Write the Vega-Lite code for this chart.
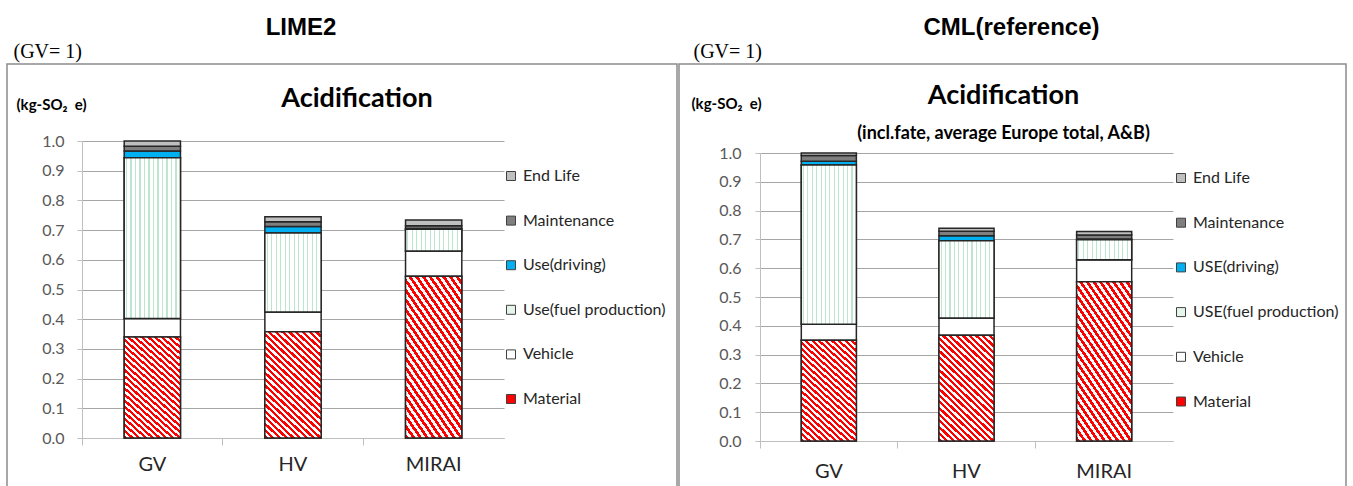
{
  "$schema": "https://vega.github.io/schema/vega-lite/v6.json",
  "background": "white",
  "padding": {"left": 6, "top": 16, "right": 0, "bottom": 0},
  "spacing": 0,
  "hconcat": [
    {
      "title": {"text": "LIME2", "font": "Liberation Sans", "fontSize": 24, "fontWeight": "bold", "color": "#000000", "anchor": "middle", "dx": -41, "offset": 0},
      "vconcat": [
        {
          "width": 670,
          "height": 440,
          "title": {"text": "Acidification", "font": "Lato", "fontSize": 27, "fontWeight": "bold", "color": "#000000", "anchor": "middle", "dx": 15, "offset": -72},
          "data": {"values": [
            {"vehicle": "GV", "stage": "Material", "value": 0.340},
            {"vehicle": "GV", "stage": "Vehicle", "value": 0.062},
            {"vehicle": "GV", "stage": "Use(fuel production)", "value": 0.542},
            {"vehicle": "GV", "stage": "Use(driving)", "value": 0.022},
            {"vehicle": "GV", "stage": "Maintenance", "value": 0.016},
            {"vehicle": "GV", "stage": "End Life", "value": 0.018},
            {"vehicle": "HV", "stage": "Material", "value": 0.358},
            {"vehicle": "HV", "stage": "Vehicle", "value": 0.066},
            {"vehicle": "HV", "stage": "Use(fuel production)", "value": 0.266},
            {"vehicle": "HV", "stage": "Use(driving)", "value": 0.022},
            {"vehicle": "HV", "stage": "Maintenance", "value": 0.016},
            {"vehicle": "HV", "stage": "End Life", "value": 0.017},
            {"vehicle": "MIRAI", "stage": "Material", "value": 0.545},
            {"vehicle": "MIRAI", "stage": "Vehicle", "value": 0.085},
            {"vehicle": "MIRAI", "stage": "Use(fuel production)", "value": 0.073},
            {"vehicle": "MIRAI", "stage": "Use(driving)", "value": 0.002},
            {"vehicle": "MIRAI", "stage": "Maintenance", "value": 0.010},
            {"vehicle": "MIRAI", "stage": "End Life", "value": 0.019}
          ]},
          "transform": [
            {"calculate": "indexof(['Material','Vehicle','Use(fuel production)','Use(driving)','Maintenance','End Life'], datum.stage)", "as": "ord"},
            {"stack": "value", "groupby": ["vehicle"], "sort": [{"field": "ord", "order": "ascending"}], "as": ["v0", "v1"]}
          ],
          "encoding": {
            "x": {"field": "vehicle", "type": "nominal", "sort": ["GV", "HV", "MIRAI"],
              "scale": {"range": [75, 497], "paddingInner": 0.6, "paddingOuter": 0.3},
              "axis": {"orient": "bottom", "offset": -66, "bandPosition": -0.75, "domainColor": "#bfbfbf", "tickColor": "#bfbfbf", "tickSize": 7, "labelAngle": 0, "labelFont": "Lato", "labelFontSize": 20, "labelColor": "#262626", "labelPadding": 19, "labelBaseline": "middle", "grid": false,
                "title": "(GV= 1)", "titleX": 6, "titleY": -387, "titleAlign": "left", "titleBaseline": "middle", "titleFont": "Liberation Serif", "titleFontSize": 20, "titleFontWeight": "normal", "titleColor": "#000000"}},
            "y": {"field": "v0", "type": "quantitative",
              "scale": {"domain": [0, 1], "range": [374, 77], "nice": false},
              "axis": {"values": [0, 0.1, 0.2, 0.3, 0.4, 0.5, 0.6, 0.7, 0.8, 0.9, 1.0], "format": ".1f", "offset": -75, "grid": true, "gridColor": "#a6a6a6", "gridWidth": 1, "domainColor": "#bfbfbf", "tickColor": "#bfbfbf", "tickSize": 5, "labelFont": "Lato", "labelFontSize": 16, "labelColor": "#595959", "labelPadding": 13,
                "title": "(kg-SO₂\u00a0 e)", "titleAngle": 0, "titleX": -66, "titleY": 40, "titleAlign": "left", "titleBaseline": "middle", "titleFont": "Lato", "titleFontSize": 15, "titleFontWeight": "bold", "titleColor": "#000000"}},
            "y2": {"field": "v1"}
          },
          "layer": [
            {
              "mark": {"type": "bar", "stroke": "#262626", "strokeWidth": 1.5},
              "encoding": {
                "color": {"field": "stage", "type": "nominal",
                  "scale": {"domain": ["End Life", "Maintenance", "Use(driving)", "Use(fuel production)", "Vehicle", "Material"],
                            "range": ["#bfbfbf", "#7f7f7f", "#00b0f0", "#e6f5ec", "#ffffff", "#ff0000"]},
                  "legend": {"orient": "none", "legendX": 496, "legendY": 104, "title": null, "symbolType": "square", "symbolSize": 81, "symbolStrokeColor": "#404040", "symbolStrokeWidth": 1, "labelFont": "Lato", "labelFontSize": 16, "labelColor": "#262626", "rowPadding": 28.6, "labelOffset": 4}}
              }
            },
            {
              "transform": [{"filter": "datum.stage === 'Material'"}],
              "mark": {"type": "bar", "stroke": "#262626", "strokeWidth": 1.5,
                "fill": {"gradient": "linear", "x1": 0, "y1": 1, "x2": 0.6, "y2": -0.2, "stops": [
                  {"offset": 0, "color": "#ff0000"}, {"offset": 0.02, "color": "#ff0000"}, {"offset": 0.02, "color": "#ffffff"}, {"offset": 0.04, "color": "#ffffff"},
                  {"offset": 0.04, "color": "#ff0000"}, {"offset": 0.06, "color": "#ff0000"}, {"offset": 0.06, "color": "#ffffff"}, {"offset": 0.08, "color": "#ffffff"},
                  {"offset": 0.08, "color": "#ff0000"}, {"offset": 0.10, "color": "#ff0000"}, {"offset": 0.10, "color": "#ffffff"}, {"offset": 0.12, "color": "#ffffff"},
                  {"offset": 0.12, "color": "#ff0000"}, {"offset": 0.14, "color": "#ff0000"}, {"offset": 0.14, "color": "#ffffff"}, {"offset": 0.16, "color": "#ffffff"},
                  {"offset": 0.16, "color": "#ff0000"}, {"offset": 0.18, "color": "#ff0000"}, {"offset": 0.18, "color": "#ffffff"}, {"offset": 0.20, "color": "#ffffff"},
                  {"offset": 0.20, "color": "#ff0000"}, {"offset": 0.22, "color": "#ff0000"}, {"offset": 0.22, "color": "#ffffff"}, {"offset": 0.24, "color": "#ffffff"},
                  {"offset": 0.24, "color": "#ff0000"}, {"offset": 0.26, "color": "#ff0000"}, {"offset": 0.26, "color": "#ffffff"}, {"offset": 0.28, "color": "#ffffff"},
                  {"offset": 0.28, "color": "#ff0000"}, {"offset": 0.30, "color": "#ff0000"}, {"offset": 0.30, "color": "#ffffff"}, {"offset": 0.32, "color": "#ffffff"},
                  {"offset": 0.32, "color": "#ff0000"}, {"offset": 0.34, "color": "#ff0000"}, {"offset": 0.34, "color": "#ffffff"}, {"offset": 0.36, "color": "#ffffff"},
                  {"offset": 0.36, "color": "#ff0000"}, {"offset": 0.38, "color": "#ff0000"}, {"offset": 0.38, "color": "#ffffff"}, {"offset": 0.40, "color": "#ffffff"},
                  {"offset": 0.40, "color": "#ff0000"}, {"offset": 0.42, "color": "#ff0000"}, {"offset": 0.42, "color": "#ffffff"}, {"offset": 0.44, "color": "#ffffff"},
                  {"offset": 0.44, "color": "#ff0000"}, {"offset": 0.46, "color": "#ff0000"}, {"offset": 0.46, "color": "#ffffff"}, {"offset": 0.48, "color": "#ffffff"},
                  {"offset": 0.48, "color": "#ff0000"}, {"offset": 0.50, "color": "#ff0000"}, {"offset": 0.50, "color": "#ffffff"}, {"offset": 0.52, "color": "#ffffff"},
                  {"offset": 0.52, "color": "#ff0000"}, {"offset": 0.54, "color": "#ff0000"}, {"offset": 0.54, "color": "#ffffff"}, {"offset": 0.56, "color": "#ffffff"},
                  {"offset": 0.56, "color": "#ff0000"}, {"offset": 0.58, "color": "#ff0000"}, {"offset": 0.58, "color": "#ffffff"}, {"offset": 0.60, "color": "#ffffff"},
                  {"offset": 0.60, "color": "#ff0000"}, {"offset": 0.62, "color": "#ff0000"}, {"offset": 0.62, "color": "#ffffff"}, {"offset": 0.64, "color": "#ffffff"},
                  {"offset": 0.64, "color": "#ff0000"}, {"offset": 0.66, "color": "#ff0000"}, {"offset": 0.66, "color": "#ffffff"}, {"offset": 0.68, "color": "#ffffff"},
                  {"offset": 0.68, "color": "#ff0000"}, {"offset": 0.70, "color": "#ff0000"}, {"offset": 0.70, "color": "#ffffff"}, {"offset": 0.72, "color": "#ffffff"},
                  {"offset": 0.72, "color": "#ff0000"}, {"offset": 0.74, "color": "#ff0000"}, {"offset": 0.74, "color": "#ffffff"}, {"offset": 0.76, "color": "#ffffff"},
                  {"offset": 0.76, "color": "#ff0000"}, {"offset": 0.78, "color": "#ff0000"}, {"offset": 0.78, "color": "#ffffff"}, {"offset": 0.80, "color": "#ffffff"},
                  {"offset": 0.80, "color": "#ff0000"}, {"offset": 0.82, "color": "#ff0000"}, {"offset": 0.82, "color": "#ffffff"}, {"offset": 0.84, "color": "#ffffff"},
                  {"offset": 0.84, "color": "#ff0000"}, {"offset": 0.86, "color": "#ff0000"}, {"offset": 0.86, "color": "#ffffff"}, {"offset": 0.88, "color": "#ffffff"},
                  {"offset": 0.88, "color": "#ff0000"}, {"offset": 0.90, "color": "#ff0000"}, {"offset": 0.90, "color": "#ffffff"}, {"offset": 0.92, "color": "#ffffff"},
                  {"offset": 0.92, "color": "#ff0000"}, {"offset": 0.94, "color": "#ff0000"}, {"offset": 0.94, "color": "#ffffff"}, {"offset": 0.96, "color": "#ffffff"},
                  {"offset": 0.96, "color": "#ff0000"}, {"offset": 0.98, "color": "#ff0000"}, {"offset": 0.98, "color": "#ffffff"}, {"offset": 1.0, "color": "#ffffff"}
                ]}}
            },
            {
              "transform": [{"filter": "datum.stage === 'Use(fuel production)'"}],
              "mark": {"type": "bar", "stroke": "#262626", "strokeWidth": 1.5,
                "fill": {"gradient": "linear", "x1": 0, "y1": 0, "x2": 1, "y2": 0, "stops": [
                  {"offset": 0, "color": "#ffffff"},
                  {"offset": 0.03, "color": "#ffffff"}, {"offset": 0.03, "color": "#bde6cf"}, {"offset": 0.05, "color": "#bde6cf"}, {"offset": 0.05, "color": "#ffffff"},
                  {"offset": 0.11, "color": "#ffffff"}, {"offset": 0.11, "color": "#bde6cf"}, {"offset": 0.13, "color": "#bde6cf"}, {"offset": 0.13, "color": "#ffffff"},
                  {"offset": 0.19, "color": "#ffffff"}, {"offset": 0.19, "color": "#bde6cf"}, {"offset": 0.21, "color": "#bde6cf"}, {"offset": 0.21, "color": "#ffffff"},
                  {"offset": 0.27, "color": "#ffffff"}, {"offset": 0.27, "color": "#bde6cf"}, {"offset": 0.29, "color": "#bde6cf"}, {"offset": 0.29, "color": "#ffffff"},
                  {"offset": 0.35, "color": "#ffffff"}, {"offset": 0.35, "color": "#bde6cf"}, {"offset": 0.37, "color": "#bde6cf"}, {"offset": 0.37, "color": "#ffffff"},
                  {"offset": 0.43, "color": "#ffffff"}, {"offset": 0.43, "color": "#bde6cf"}, {"offset": 0.45, "color": "#bde6cf"}, {"offset": 0.45, "color": "#ffffff"},
                  {"offset": 0.51, "color": "#ffffff"}, {"offset": 0.51, "color": "#bde6cf"}, {"offset": 0.53, "color": "#bde6cf"}, {"offset": 0.53, "color": "#ffffff"},
                  {"offset": 0.59, "color": "#ffffff"}, {"offset": 0.59, "color": "#bde6cf"}, {"offset": 0.61, "color": "#bde6cf"}, {"offset": 0.61, "color": "#ffffff"},
                  {"offset": 0.67, "color": "#ffffff"}, {"offset": 0.67, "color": "#bde6cf"}, {"offset": 0.69, "color": "#bde6cf"}, {"offset": 0.69, "color": "#ffffff"},
                  {"offset": 0.75, "color": "#ffffff"}, {"offset": 0.75, "color": "#bde6cf"}, {"offset": 0.77, "color": "#bde6cf"}, {"offset": 0.77, "color": "#ffffff"},
                  {"offset": 0.83, "color": "#ffffff"}, {"offset": 0.83, "color": "#bde6cf"}, {"offset": 0.85, "color": "#bde6cf"}, {"offset": 0.85, "color": "#ffffff"},
                  {"offset": 0.91, "color": "#ffffff"}, {"offset": 0.91, "color": "#bde6cf"}, {"offset": 0.93, "color": "#bde6cf"}, {"offset": 0.93, "color": "#ffffff"},
                  {"offset": 1.0, "color": "#ffffff"}
                ]}}
            }
          ]
        }
      ]
    },
    {
      "title": {"text": "CML(reference)", "font": "Liberation Sans", "fontSize": 24, "fontWeight": "bold", "color": "#000000", "anchor": "middle", "dx": -1, "offset": 0},
      "vconcat": [
        {
          "width": 667,
          "height": 440,
          "title": {"text": "Acidification", "subtitle": "(incl.fate, average Europe total, A&B)", "font": "Lato", "fontSize": 27, "fontWeight": "bold", "color": "#000000", "subtitleFont": "Lato", "subtitleFontSize": 18, "subtitleFontWeight": "bold", "subtitleColor": "#000000", "subtitlePadding": 15, "anchor": "middle", "dx": -9, "offset": -103},
          "data": {"values": [
            {"vehicle": "GV", "stage": "Material", "value": 0.350},
            {"vehicle": "GV", "stage": "Vehicle", "value": 0.055},
            {"vehicle": "GV", "stage": "USE(fuel production)", "value": 0.553},
            {"vehicle": "GV", "stage": "USE(driving)", "value": 0.013},
            {"vehicle": "GV", "stage": "Maintenance", "value": 0.020},
            {"vehicle": "GV", "stage": "End Life", "value": 0.009},
            {"vehicle": "HV", "stage": "Material", "value": 0.367},
            {"vehicle": "HV", "stage": "Vehicle", "value": 0.060},
            {"vehicle": "HV", "stage": "USE(fuel production)", "value": 0.268},
            {"vehicle": "HV", "stage": "USE(driving)", "value": 0.018},
            {"vehicle": "HV", "stage": "Maintenance", "value": 0.015},
            {"vehicle": "HV", "stage": "End Life", "value": 0.011},
            {"vehicle": "MIRAI", "stage": "Material", "value": 0.553},
            {"vehicle": "MIRAI", "stage": "Vehicle", "value": 0.076},
            {"vehicle": "MIRAI", "stage": "USE(fuel production)", "value": 0.070},
            {"vehicle": "MIRAI", "stage": "USE(driving)", "value": 0.002},
            {"vehicle": "MIRAI", "stage": "Maintenance", "value": 0.014},
            {"vehicle": "MIRAI", "stage": "End Life", "value": 0.012}
          ]},
          "transform": [
            {"calculate": "indexof(['Material','Vehicle','USE(fuel production)','USE(driving)','Maintenance','End Life'], datum.stage)", "as": "ord"},
            {"stack": "value", "groupby": ["vehicle"], "sort": [{"field": "ord", "order": "ascending"}], "as": ["v0", "v1"]}
          ],
          "encoding": {
            "x": {"field": "vehicle", "type": "nominal", "sort": ["GV", "HV", "MIRAI"],
              "scale": {"range": [81, 494], "paddingInner": 0.6, "paddingOuter": 0.3},
              "axis": {"orient": "bottom", "offset": -63, "bandPosition": -0.75, "domainColor": "#bfbfbf", "tickColor": "#bfbfbf", "tickSize": 7, "labelAngle": 0, "labelFont": "Lato", "labelFontSize": 20, "labelColor": "#262626", "labelPadding": 23, "labelBaseline": "middle", "grid": false,
                "title": "(GV= 1)", "titleX": 14, "titleY": -390, "titleAlign": "left", "titleBaseline": "middle", "titleFont": "Liberation Serif", "titleFontSize": 20, "titleFontWeight": "normal", "titleColor": "#000000"}},
            "y": {"field": "v0", "type": "quantitative",
              "scale": {"domain": [0, 1], "range": [377, 89], "nice": false},
              "axis": {"values": [0, 0.1, 0.2, 0.3, 0.4, 0.5, 0.6, 0.7, 0.8, 0.9, 1.0], "format": ".1f", "offset": -81, "grid": true, "gridColor": "#a6a6a6", "gridWidth": 1, "domainColor": "#bfbfbf", "tickColor": "#bfbfbf", "tickSize": 5, "labelFont": "Lato", "labelFontSize": 16, "labelColor": "#595959", "labelPadding": 14,
                "title": "(kg-SO₂\u00a0 e)", "titleAngle": 0, "titleX": -69, "titleY": 39, "titleAlign": "left", "titleBaseline": "middle", "titleFont": "Lato", "titleFontSize": 15, "titleFontWeight": "bold", "titleColor": "#000000"}},
            "y2": {"field": "v1"}
          },
          "layer": [
            {
              "mark": {"type": "bar", "stroke": "#262626", "strokeWidth": 1.5},
              "encoding": {
                "color": {"field": "stage", "type": "nominal",
                  "scale": {"domain": ["End Life", "Maintenance", "USE(driving)", "USE(fuel production)", "Vehicle", "Material"],
                            "range": ["#bfbfbf", "#7f7f7f", "#00b0f0", "#e6f5ec", "#ffffff", "#ff0000"]},
                  "legend": {"orient": "none", "legendX": 494, "legendY": 106, "title": null, "symbolType": "square", "symbolSize": 81, "symbolStrokeColor": "#404040", "symbolStrokeWidth": 1, "labelFont": "Lato", "labelFontSize": 16, "labelColor": "#262626", "rowPadding": 28.7, "labelOffset": 4}}
              }
            },
            {
              "transform": [{"filter": "datum.stage === 'Material'"}],
              "mark": {"type": "bar", "stroke": "#262626", "strokeWidth": 1.5,
                "fill": {"gradient": "linear", "x1": 0, "y1": 1, "x2": 0.6, "y2": -0.2, "stops": [
                  {"offset": 0, "color": "#ff0000"}, {"offset": 0.02, "color": "#ff0000"}, {"offset": 0.02, "color": "#ffffff"}, {"offset": 0.04, "color": "#ffffff"},
                  {"offset": 0.04, "color": "#ff0000"}, {"offset": 0.06, "color": "#ff0000"}, {"offset": 0.06, "color": "#ffffff"}, {"offset": 0.08, "color": "#ffffff"},
                  {"offset": 0.08, "color": "#ff0000"}, {"offset": 0.10, "color": "#ff0000"}, {"offset": 0.10, "color": "#ffffff"}, {"offset": 0.12, "color": "#ffffff"},
                  {"offset": 0.12, "color": "#ff0000"}, {"offset": 0.14, "color": "#ff0000"}, {"offset": 0.14, "color": "#ffffff"}, {"offset": 0.16, "color": "#ffffff"},
                  {"offset": 0.16, "color": "#ff0000"}, {"offset": 0.18, "color": "#ff0000"}, {"offset": 0.18, "color": "#ffffff"}, {"offset": 0.20, "color": "#ffffff"},
                  {"offset": 0.20, "color": "#ff0000"}, {"offset": 0.22, "color": "#ff0000"}, {"offset": 0.22, "color": "#ffffff"}, {"offset": 0.24, "color": "#ffffff"},
                  {"offset": 0.24, "color": "#ff0000"}, {"offset": 0.26, "color": "#ff0000"}, {"offset": 0.26, "color": "#ffffff"}, {"offset": 0.28, "color": "#ffffff"},
                  {"offset": 0.28, "color": "#ff0000"}, {"offset": 0.30, "color": "#ff0000"}, {"offset": 0.30, "color": "#ffffff"}, {"offset": 0.32, "color": "#ffffff"},
                  {"offset": 0.32, "color": "#ff0000"}, {"offset": 0.34, "color": "#ff0000"}, {"offset": 0.34, "color": "#ffffff"}, {"offset": 0.36, "color": "#ffffff"},
                  {"offset": 0.36, "color": "#ff0000"}, {"offset": 0.38, "color": "#ff0000"}, {"offset": 0.38, "color": "#ffffff"}, {"offset": 0.40, "color": "#ffffff"},
                  {"offset": 0.40, "color": "#ff0000"}, {"offset": 0.42, "color": "#ff0000"}, {"offset": 0.42, "color": "#ffffff"}, {"offset": 0.44, "color": "#ffffff"},
                  {"offset": 0.44, "color": "#ff0000"}, {"offset": 0.46, "color": "#ff0000"}, {"offset": 0.46, "color": "#ffffff"}, {"offset": 0.48, "color": "#ffffff"},
                  {"offset": 0.48, "color": "#ff0000"}, {"offset": 0.50, "color": "#ff0000"}, {"offset": 0.50, "color": "#ffffff"}, {"offset": 0.52, "color": "#ffffff"},
                  {"offset": 0.52, "color": "#ff0000"}, {"offset": 0.54, "color": "#ff0000"}, {"offset": 0.54, "color": "#ffffff"}, {"offset": 0.56, "color": "#ffffff"},
                  {"offset": 0.56, "color": "#ff0000"}, {"offset": 0.58, "color": "#ff0000"}, {"offset": 0.58, "color": "#ffffff"}, {"offset": 0.60, "color": "#ffffff"},
                  {"offset": 0.60, "color": "#ff0000"}, {"offset": 0.62, "color": "#ff0000"}, {"offset": 0.62, "color": "#ffffff"}, {"offset": 0.64, "color": "#ffffff"},
                  {"offset": 0.64, "color": "#ff0000"}, {"offset": 0.66, "color": "#ff0000"}, {"offset": 0.66, "color": "#ffffff"}, {"offset": 0.68, "color": "#ffffff"},
                  {"offset": 0.68, "color": "#ff0000"}, {"offset": 0.70, "color": "#ff0000"}, {"offset": 0.70, "color": "#ffffff"}, {"offset": 0.72, "color": "#ffffff"},
                  {"offset": 0.72, "color": "#ff0000"}, {"offset": 0.74, "color": "#ff0000"}, {"offset": 0.74, "color": "#ffffff"}, {"offset": 0.76, "color": "#ffffff"},
                  {"offset": 0.76, "color": "#ff0000"}, {"offset": 0.78, "color": "#ff0000"}, {"offset": 0.78, "color": "#ffffff"}, {"offset": 0.80, "color": "#ffffff"},
                  {"offset": 0.80, "color": "#ff0000"}, {"offset": 0.82, "color": "#ff0000"}, {"offset": 0.82, "color": "#ffffff"}, {"offset": 0.84, "color": "#ffffff"},
                  {"offset": 0.84, "color": "#ff0000"}, {"offset": 0.86, "color": "#ff0000"}, {"offset": 0.86, "color": "#ffffff"}, {"offset": 0.88, "color": "#ffffff"},
                  {"offset": 0.88, "color": "#ff0000"}, {"offset": 0.90, "color": "#ff0000"}, {"offset": 0.90, "color": "#ffffff"}, {"offset": 0.92, "color": "#ffffff"},
                  {"offset": 0.92, "color": "#ff0000"}, {"offset": 0.94, "color": "#ff0000"}, {"offset": 0.94, "color": "#ffffff"}, {"offset": 0.96, "color": "#ffffff"},
                  {"offset": 0.96, "color": "#ff0000"}, {"offset": 0.98, "color": "#ff0000"}, {"offset": 0.98, "color": "#ffffff"}, {"offset": 1.0, "color": "#ffffff"}
                ]}}
            },
            {
              "transform": [{"filter": "datum.stage === 'USE(fuel production)'"}],
              "mark": {"type": "bar", "stroke": "#262626", "strokeWidth": 1.5,
                "fill": {"gradient": "linear", "x1": 0, "y1": 0, "x2": 1, "y2": 0, "stops": [
                  {"offset": 0, "color": "#ffffff"},
                  {"offset": 0.03, "color": "#ffffff"}, {"offset": 0.03, "color": "#bde6cf"}, {"offset": 0.05, "color": "#bde6cf"}, {"offset": 0.05, "color": "#ffffff"},
                  {"offset": 0.11, "color": "#ffffff"}, {"offset": 0.11, "color": "#bde6cf"}, {"offset": 0.13, "color": "#bde6cf"}, {"offset": 0.13, "color": "#ffffff"},
                  {"offset": 0.19, "color": "#ffffff"}, {"offset": 0.19, "color": "#bde6cf"}, {"offset": 0.21, "color": "#bde6cf"}, {"offset": 0.21, "color": "#ffffff"},
                  {"offset": 0.27, "color": "#ffffff"}, {"offset": 0.27, "color": "#bde6cf"}, {"offset": 0.29, "color": "#bde6cf"}, {"offset": 0.29, "color": "#ffffff"},
                  {"offset": 0.35, "color": "#ffffff"}, {"offset": 0.35, "color": "#bde6cf"}, {"offset": 0.37, "color": "#bde6cf"}, {"offset": 0.37, "color": "#ffffff"},
                  {"offset": 0.43, "color": "#ffffff"}, {"offset": 0.43, "color": "#bde6cf"}, {"offset": 0.45, "color": "#bde6cf"}, {"offset": 0.45, "color": "#ffffff"},
                  {"offset": 0.51, "color": "#ffffff"}, {"offset": 0.51, "color": "#bde6cf"}, {"offset": 0.53, "color": "#bde6cf"}, {"offset": 0.53, "color": "#ffffff"},
                  {"offset": 0.59, "color": "#ffffff"}, {"offset": 0.59, "color": "#bde6cf"}, {"offset": 0.61, "color": "#bde6cf"}, {"offset": 0.61, "color": "#ffffff"},
                  {"offset": 0.67, "color": "#ffffff"}, {"offset": 0.67, "color": "#bde6cf"}, {"offset": 0.69, "color": "#bde6cf"}, {"offset": 0.69, "color": "#ffffff"},
                  {"offset": 0.75, "color": "#ffffff"}, {"offset": 0.75, "color": "#bde6cf"}, {"offset": 0.77, "color": "#bde6cf"}, {"offset": 0.77, "color": "#ffffff"},
                  {"offset": 0.83, "color": "#ffffff"}, {"offset": 0.83, "color": "#bde6cf"}, {"offset": 0.85, "color": "#bde6cf"}, {"offset": 0.85, "color": "#ffffff"},
                  {"offset": 0.91, "color": "#ffffff"}, {"offset": 0.91, "color": "#bde6cf"}, {"offset": 0.93, "color": "#bde6cf"}, {"offset": 0.93, "color": "#ffffff"},
                  {"offset": 1.0, "color": "#ffffff"}
                ]}}
            }
          ]
        }
      ]
    }
  ],
  "resolve": {"scale": {"color": "independent", "x": "independent", "y": "independent"}, "legend": {"color": "independent"}},
  "config": {
    "font": "Lato",
    "view": {"stroke": "#8c8c8c", "strokeWidth": 1.5},
    "concat": {"spacing": 0}
  }
}
